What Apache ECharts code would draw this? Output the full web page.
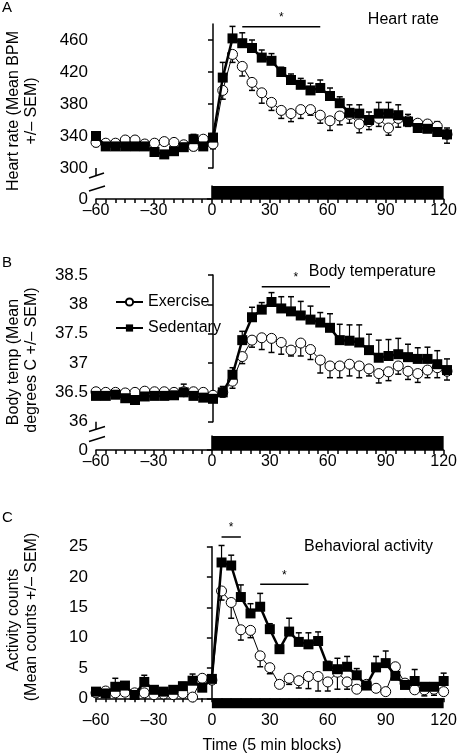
<!DOCTYPE html>
<html><head><meta charset="utf-8">
<script src="https://cdn.jsdelivr.net/npm/echarts@6/dist/echarts.min.js"></script>
<style>html,body{margin:0;padding:0;background:#fff}#c{width:460px;height:756px}</style>
</head><body><div id="c"></div>
<script>
// ---- data ----
const time = [-60,-55,-50,-45,-40,-35,-30,-25,-20,-15,-10,-5,0,5,10,15,20,25,30,35,40,45,50,55,60,65,70,75,80,85,90,95,100,105,110,115,120];
const xTickLabels = [-60,-30,0,30,60,90,120];
const stimPeriod = [[0,120]];

const hrSed    = [340,327,327,327,327,327,320,317,321,326,336,327,338, 413,462,456,450,438,434,420,410,404,397,400,390,381,369,368,360,368,368,366,358,350,349,345,342];
const hrSedSem = [5,4,4,4,4,4,4,4,4,4,6,4,5, 19,15,13,10,9.5,9,6,7.5,8,9,10,10,8,10,11,10,14,14,13,9,10,9,13,8];
const hrEx     = [332,331,331,335,335,330,331,333,332,329,327,336,330, 397,442,427,407,394,382,372,368,373,373,366,359,365,367,355,358,362,350,362,359,356,355,352,342];
const hrExSem  = [5,4,4,4,4,4,4,4,4,4,5,4,6, 11,10,12,10,13,10,10,10,11,7,10,12,11,11,11,10,10,9,11,7,5,7,6,11];
const hrTicks  = [300,340,380,420,460];

const tSed    = [36.44,36.44,36.46,36.40,36.37,36.43,36.44,36.44,36.45,36.50,36.44,36.41,36.39, 36.50,36.80,37.39,37.78,37.91,38.04,37.93,37.88,37.81,37.74,37.69,37.60,37.39,37.38,37.35,37.22,37.09,37.12,37.15,37.10,37.07,37.07,36.98,36.88];
const tSedSem = [0.08,0.08,0.1,0.12,0.08,0.06,0.08,0.08,0.08,0.14,0.1,0.08,0.06, 0.1,0.12,0.15,0.17,0.12,0.16,0.2,0.25,0.24,0.23,0.17,0.24,0.27,0.27,0.3,0.27,0.3,0.28,0.27,0.22,0.19,0.2,0.23,0.19];
const tEx     = [36.51,36.50,36.50,36.49,36.50,36.52,36.51,36.51,36.50,36.51,36.51,36.50,36.45, 36.50,36.69,37.11,37.39,37.43,37.42,37.35,37.22,37.34,37.23,37.05,36.95,36.95,36.98,36.95,36.90,36.82,36.85,36.95,36.86,36.82,36.88,36.92,36.86];
const tExSem  = [0.06,0.05,0.06,0.06,0.05,0.05,0.05,0.06,0.05,0.06,0.06,0.05,0.06, 0.08,0.12,0.12,0.12,0.2,0.24,0.2,0.1,0.22,0.17,0.22,0.2,0.2,0.2,0.2,0.12,0.16,0.15,0.14,0.14,0.15,0.13,0.17,0.15];
const tTicks  = [36,36.5,37,37.5,38,38.5];

const actSed    = [1.1,0.8,1.9,2.1,0.55,2.7,1.4,1.1,1.4,2.0,2.9,1.75,3.2, 22.4,21.9,16.7,14.0,15.1,11.4,8.1,11.0,9.3,8.9,9.45,5.3,4.8,5.2,3.8,2.1,5.1,5.8,3.7,2.2,2.85,1.9,1.9,2.85];
const actSedSem = [0.5,0.5,1.4,0.6,0.5,1.1,0.5,0.5,0.5,0.6,1.1,0.6,0.5, 2.8,1.7,2.0,1.6,2.2,0.9,0.5,2.2,1.5,1.9,1.5,0.8,1.8,1.7,1.1,0.5,1.8,2.0,0.5,0.5,1.9,0.5,0.5,1.3];
const actEx     = [0.9,1.2,0.9,1.0,0.9,0.9,0.6,0.7,0.6,0.8,0.2,3.3,3.0, 17.7,15.8,11.3,11.2,7.0,5.05,2.3,3.3,2.9,3.6,3.6,2.7,4.3,2.7,1.5,2.3,1.65,1.1,5.2,2.5,1.4,1.4,1.5,1.1];
const actExSem  = [0.3,0.3,0.3,0.3,0.3,0.3,0.3,0.3,0.3,0.3,0.2,0.3,0.3, 1.5,2.6,1.7,1.2,1.8,1.0,0.4,1.0,1.2,2.0,2.4,1.5,2.8,1.2,0.4,0.4,0.4,0.3,0.6,0.4,0.5,1.0,1.0,0.4];
const actTicks  = [0,5,10,15,20,25];

const sigA = [[15,55]];
const sigB = [[25,60]];
const sigC = [[5,15],[25,50]];

// ---- rendering ----
const FONT = '"Liberation Sans", Arial, sans-serif';
const chart = echarts.init(document.getElementById('c'), null, {renderer:'canvas'});
const pair = (vals) => time.map((t,i)=>[t, vals[i]]);
const trip = (vals, sem) => time.map((t,i)=>[t, vals[i], sem[i]]);
const fmtX = v => v < 0 ? '\u2013' + Math.abs(v) : String(v);

function gridDef(top, height){ return {left:96, right:13, top:top, height:height, containLabel:false}; }
const grids = [gridDef(24,144), gridDef(186,13), gridDef(275,146.7), gridDef(436,14), gridDef(546.7,151.6)];

function xAx(i, show, margin){
  return {gridIndex:i, type:'value', min:-60, max:120, interval:30, show:show,
    axisLine:{show:true, lineStyle:{color:'#000', width:1.5}},
    axisTick:{show:true, length:4, lineStyle:{color:'#000', width:1.5}},
    minorTick:{show:true, splitNumber:6, length:4, lineStyle:{color:'#000', width:1.5}},
    splitLine:{show:false}, minorSplitLine:{show:false},
    axisLabel:{customValues:xTickLabels, formatter:fmtX, color:'#000', fontSize:16, fontFamily:FONT, margin:margin}};
}
function yAx(i, min, max, ticks){
  return {gridIndex:i, type:'value', min:min, max:max,
    axisLine:{show:true, lineStyle:{color:'#000', width:1.5}},
    axisTick:{show:true, length:5, customValues:ticks, lineStyle:{color:'#000', width:1.5}},
    axisLabel:{customValues:ticks, formatter:v=>String(v), color:'#000', fontSize:17, fontFamily:FONT, margin:8},
    splitLine:{show:false}};
}

function errSeries(idx, data, dir, z){
  return {type:'custom', xAxisIndex:idx, yAxisIndex:idx, z:z, silent:true, clip:false,
    encode:{x:0, y:1}, data:data,
    renderItem:(p, api)=>{
      const x=api.value(0), y=api.value(1), s=api.value(2);
      const a=api.coord([x,y]), b=api.coord([x,y+dir*s]);
      return {type:'group', children:[
        {type:'line', shape:{x1:a[0],y1:a[1],x2:b[0],y2:b[1]}, style:{stroke:'#000', lineWidth:1.2}},
        {type:'line', shape:{x1:b[0]-3,y1:b[1],x2:b[0]+3,y2:b[1]}, style:{stroke:'#000', lineWidth:1.5}}
      ]};
    }};
}
function sedLine(idx, vals){
  return {name:'Sedentary', type:'line', xAxisIndex:idx, yAxisIndex:idx, z:4, data:pair(vals),
    symbol:'rect', symbolSize:10, showSymbol:true, clip:false,
    itemStyle:{color:'#000'}, lineStyle:{color:'#000', width:2.5}, animation:false};
}
function exLine(idx, vals){
  return {name:'Exercise', type:'line', xAxisIndex:idx, yAxisIndex:idx, z:3, data:pair(vals),
    symbol:'circle', symbolSize:10, showSymbol:true, clip:false,
    itemStyle:{color:'#fff', borderColor:'#000', borderWidth:1}, lineStyle:{color:'#000', width:1}, animation:false};
}
function barSeries(idx, below){
  return {type:'custom', xAxisIndex:idx, yAxisIndex:idx, z:5, silent:true, clip:false,
    encode:{x:[0,1]}, data:stimPeriod,
    renderItem:(p, api)=>{
      const s=api.value(0), e=api.value(1);
      let a, b;
      if (below){ a=api.coord([s,0]); b=api.coord([e,0]); return {type:'rect', shape:{x:a[0], y:a[1], width:b[0]-a[0], height:10}, style:{fill:'#000'}}; }
      a=api.coord([s,1]); b=api.coord([e,0]);
      return {type:'rect', shape:{x:a[0], y:a[1], width:b[0]-a[0], height:b[1]-a[1]}, style:{fill:'#000'}};
    }};
}
function sigSeries(idx, ranges, levels){
  return {type:'custom', xAxisIndex:idx, yAxisIndex:idx, z:6, silent:true, clip:false,
    encode:{x:[0,1]}, data:ranges,
    renderItem:(p, api)=>{
      const s=api.value(0), e=api.value(1), lv=levels[p.dataIndex];
      const a=api.coord([s,lv]), b=api.coord([e,lv]);
      return {type:'group', children:[
        {type:'line', shape:{x1:a[0],y1:a[1],x2:b[0],y2:b[1]}, style:{stroke:'#000', lineWidth:1.5}},
        {type:'text', x:(a[0]+b[0])/2, y:a[1]-3, style:{text:'*', font:'12px '+FONT, fill:'#000', align:'center', verticalAlign:'bottom'}}
      ]};
    }};
}

function txt(x, y, t, align, size, rot){
  return {type:'text', x:x, y:y, rotation:rot||0, silent:true,
    style:{text:t, font:(size||16)+'px '+FONT, fill:'#000', align:align||'left', verticalAlign:'middle'}};
}
function brk(x1,y1,x2,y2){ return {type:'line', silent:true, shape:{x1,y1,x2,y2}, style:{stroke:'#000', lineWidth:1.5}}; }
const R = Math.PI/2;

const option = {
  animation:false,
  backgroundColor:'#fff',
  grid: grids,
  xAxis:[xAx(0,false,4), xAx(1,true,4), xAx(2,false,4), xAx(3,true,4), xAx(4,true,14)],
  yAxis:[yAx(0,300,480,hrTicks), yAx(1,0,1,[0]), yAx(2,36,38.5,tTicks), yAx(3,0,1,[0]), yAx(4,0,25,actTicks)],
  legend:{data:['Exercise','Sedentary'], orient:'vertical', left:110, top:289, itemWidth:27, itemHeight:9, itemGap:10,
    textStyle:{fontSize:16, color:'#000', fontFamily:FONT}, selectedMode:false},
  graphic:[
    txt(2,8,'A','left',15), txt(2,263,'B','left',15), txt(2,518,'C','left',15),
    txt(439,20,'Heart rate','right',16), txt(436,272,'Body temperature','right',16), txt(433,547,'Behavioral activity','right',16),
    txt(14,111,'Heart rate (Mean BPM','center',16,R), txt(32,111,'+/\u2013 SEM)','center',16,R),
    txt(14,362,'Body temp (Mean','center',16,R), txt(32,360,'degrees C +/\u2013 SEM)','center',16,R),
    txt(14,620,'Activity counts','center',16,R), txt(32,617,'(Mean counts +/\u2013 SEM)','center',16,R),
    txt(272,746,'Time (5 min blocks)','center',16),
    // axis breaks
    brk(96,168,96,176), brk(89,178,104,173), brk(89,191,105,186),
    brk(96,421.7,96,429), brk(89,431.5,105,426.5), brk(89,441.5,105,436.5)
  ],
  series:[
    barSeries(1,false), barSeries(3,false), barSeries(4,true),
    errSeries(0, trip(hrEx,hrExSem), -1, 1), errSeries(0, trip(hrSed,hrSedSem), 1, 1),
    errSeries(2, trip(tEx,tExSem), -1, 1), errSeries(2, trip(tSed,tSedSem), 1, 1),
    errSeries(4, trip(actEx,actExSem), -1, 1), errSeries(4, trip(actSed,actSedSem), 1, 1),
    exLine(2,tEx), sedLine(2,tSed),
    exLine(0,hrEx), sedLine(0,hrSed),
    exLine(4,actEx), sedLine(4,actSed),
    sigSeries(0, sigA, [476.6]), sigSeries(2, sigB, [38.3]), sigSeries(4, sigC, [26.6, 18.8])
  ]
};
chart.setOption(option);
</script></body></html>
